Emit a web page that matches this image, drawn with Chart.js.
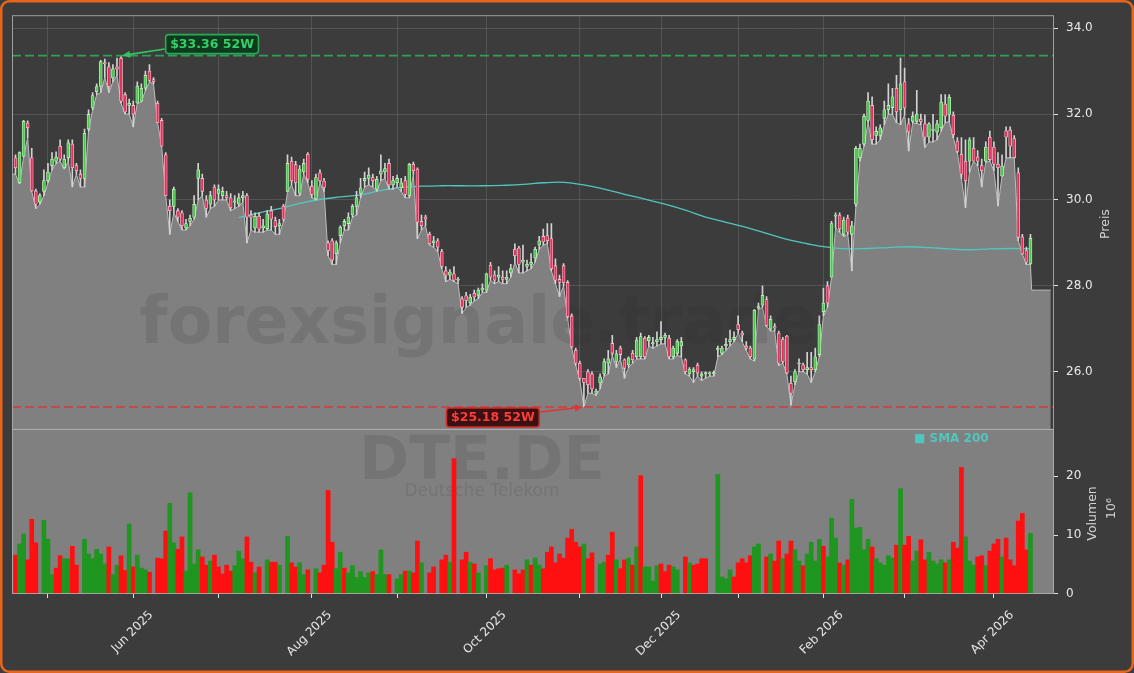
<!DOCTYPE html>
<html>
<head>
<meta charset="utf-8">
<script src="https://cdn.jsdelivr.net/npm/chart.js@4.4.1/dist/chart.umd.min.js"></script>
<style>
  html, body { margin: 0; padding: 0; background: #3c3c3c; overflow: hidden; }
  #wrap { position: relative; width: 1134px; height: 673px; }
</style>
</head>
<body>
<div id="wrap"><canvas id="chart"></canvas></div>
<script>
// ── Data (DTE.DE daily, trading-day index 0..250) ─────────────
const open = [
30.98,30.40,31.02,31.79,30.98,30.21,29.95,30.20,30.45,30.80,
30.90,31.25,30.75,30.98,31.30,30.80,30.60,30.50,31.65,32.14,
32.52,32.64,33.20,33.10,32.84,33.10,33.30,32.45,32.20,32.20,
32.25,32.30,32.60,33.00,32.80,32.25,31.85,31.05,29.85,29.85,
29.75,29.70,29.35,29.50,29.60,30.50,30.50,30.00,29.90,30.30,
30.15,30.10,30.10,30.05,29.95,29.90,30.05,30.10,29.65,29.35,
29.62,29.35,29.33,29.75,29.52,29.40,29.85,30.20,30.90,30.82,
30.15,30.65,31.06,30.32,30.02,30.63,30.44,29.00,29.05,28.75,
29.17,29.40,29.45,29.65,29.85,30.15,30.45,30.50,30.52,30.25,
30.60,30.65,30.85,30.35,30.40,30.28,30.45,30.10,30.83,30.72,
29.50,29.60,29.20,29.00,29.05,28.80,28.35,28.25,28.28,28.13,
27.70,27.77,27.60,27.83,27.78,27.90,27.90,28.48,28.25,28.20,
28.20,28.15,28.30,28.85,28.88,28.55,28.45,28.50,28.65,28.95,
29.15,29.17,29.10,28.47,28.15,28.47,28.08,27.30,26.50,26.20,
25.85,26.00,25.95,25.50,25.74,25.95,26.20,26.66,26.24,26.55,
26.28,26.16,26.43,26.35,26.35,26.78,26.72,26.65,26.70,26.75,
26.80,26.78,26.35,26.43,26.60,26.28,25.95,26.00,26.15,25.90,
25.95,25.95,25.95,26.52,26.43,26.60,26.70,26.75,27.10,26.90,
26.60,26.55,26.30,27.48,27.55,27.68,26.99,27.05,26.90,26.75,
26.83,25.73,25.77,26.18,26.16,26.05,26.10,26.05,26.40,27.40,
28.00,28.20,29.62,29.65,29.20,29.58,29.20,29.90,30.98,31.30,
31.85,32.20,31.50,31.50,31.90,32.10,32.15,32.60,32.10,32.75,
31.77,31.83,31.83,31.88,31.77,31.46,31.62,31.58,31.68,32.23,
31.99,31.97,31.37,31.06,30.90,30.90,31.20,31.00,30.80,30.90,
31.46,31.23,30.83,30.56,31.61,31.63,31.43,30.63,29.14,28.82,
28.51];

const high = [
31.05,31.12,31.85,31.84,31.20,30.25,30.15,30.70,30.85,31.10,
31.12,31.40,31.05,31.40,31.40,30.85,30.70,31.65,32.10,32.50,
32.70,33.25,33.28,33.20,33.15,33.30,33.36,32.50,32.35,32.30,
32.75,32.70,33.00,33.15,32.85,32.30,31.90,31.10,30.00,30.30,
29.80,29.75,29.55,29.65,30.10,30.85,30.60,30.10,30.20,30.35,
30.35,30.30,30.20,30.15,30.10,30.15,30.20,30.15,29.75,29.70,
29.70,29.55,29.75,29.85,29.60,29.55,29.90,31.05,31.00,30.90,
30.80,30.95,31.10,30.45,30.60,30.70,30.50,29.05,29.10,29.05,
29.40,29.55,29.70,29.90,30.20,30.50,30.65,30.75,30.60,30.55,
31.05,30.85,30.95,30.55,30.58,30.50,30.55,30.85,30.88,30.75,
29.65,29.65,29.25,29.15,29.10,28.85,28.45,28.38,28.45,28.20,
27.75,27.85,27.80,27.90,27.95,28.05,28.30,28.55,28.35,28.45,
28.35,28.35,28.50,28.98,28.92,28.95,28.60,28.75,28.90,29.15,
29.32,29.45,29.45,28.63,28.25,28.52,28.12,27.35,26.55,26.25,
25.85,26.05,26.00,25.60,25.95,26.30,26.50,26.85,26.50,26.60,
26.30,26.35,26.50,26.80,26.90,26.82,26.85,26.80,26.93,27.17,
26.90,26.85,26.60,26.75,26.80,26.30,26.10,26.10,26.20,26.00,
26.00,26.00,26.02,26.60,26.60,26.78,26.97,26.93,27.30,26.95,
26.70,26.60,27.45,27.60,28.00,27.75,27.30,27.12,26.95,26.80,
26.85,25.90,26.05,26.30,26.20,26.45,26.45,26.55,27.30,27.95,
28.10,29.50,29.70,29.70,29.60,29.65,29.50,31.25,31.30,32.00,
32.50,32.40,31.70,31.75,32.30,32.70,32.60,32.90,33.30,33.07,
31.90,32.05,32.55,32.00,31.98,31.80,31.99,31.85,32.45,32.45,
32.45,32.05,31.45,31.45,31.40,31.45,31.45,31.15,30.95,31.35,
31.60,31.35,31.10,31.05,31.70,31.70,31.50,30.75,29.20,28.90,
29.20];

const low = [
30.60,30.38,31.00,31.45,30.20,29.80,29.90,30.10,30.40,30.70,
30.85,30.90,30.72,30.90,30.30,30.60,30.30,30.30,31.60,32.10,
32.45,32.50,32.85,32.50,32.75,32.90,32.25,32.00,32.00,31.70,
32.25,32.28,32.55,32.75,32.70,31.80,31.25,30.10,29.20,29.70,
29.50,29.30,29.30,29.40,29.55,30.00,30.10,29.60,29.80,29.85,
30.00,30.00,30.00,29.75,29.80,29.85,29.95,29.00,29.30,29.25,
29.25,29.25,29.30,29.30,29.20,29.20,29.50,30.20,30.35,30.10,
30.10,30.60,30.40,30.05,30.00,30.40,30.20,28.70,28.50,28.50,
29.00,29.30,29.30,29.60,29.65,30.05,30.30,30.35,30.30,30.20,
30.45,30.50,30.25,30.25,30.30,30.20,30.05,30.05,30.60,29.10,
29.30,29.40,28.95,28.90,28.80,28.40,28.10,28.15,28.10,28.05,
27.35,27.50,27.55,27.65,27.70,27.85,27.85,28.13,28.05,28.10,
28.05,28.05,28.20,28.55,28.30,28.30,28.35,28.40,28.55,28.85,
28.95,28.98,28.35,28.05,27.75,28.00,27.25,26.55,26.15,25.80,
25.18,25.50,25.50,25.45,25.60,25.90,25.95,26.38,26.10,26.30,
25.85,26.10,26.20,26.30,26.30,26.30,26.60,26.55,26.60,26.65,
26.65,26.30,26.30,26.38,26.35,25.95,25.90,25.75,25.90,25.80,
25.85,25.90,25.90,26.35,26.40,26.50,26.60,26.70,26.90,26.70,
26.50,26.30,26.25,27.45,27.50,27.05,26.95,26.95,26.15,26.20,
25.95,25.22,25.70,26.00,26.00,25.95,25.75,26.00,26.35,27.30,
27.50,28.20,29.35,29.25,29.15,29.20,28.35,29.85,30.90,31.25,
31.80,31.30,31.30,31.40,31.75,32.00,31.99,31.80,31.75,31.98,
31.14,31.80,31.78,31.75,31.22,31.35,31.35,31.40,31.60,31.80,
31.82,31.45,31.10,30.50,29.82,30.65,30.90,30.80,30.30,30.88,
30.90,30.68,29.86,30.55,30.98,30.98,30.98,29.05,28.74,28.50,
28.50];

const close = [
30.75,31.10,31.83,31.68,30.21,29.90,30.10,30.45,30.65,30.95,
31.00,30.95,30.95,31.33,30.75,30.68,30.50,31.55,31.99,32.43,
32.64,33.22,33.17,32.64,33.05,33.05,32.30,32.05,32.25,32.00,
32.65,32.60,32.90,32.78,32.75,31.80,31.25,30.10,29.75,30.25,
29.60,29.40,29.45,29.57,29.90,30.70,30.20,29.80,30.10,30.00,
30.25,30.20,30.05,29.82,29.98,30.05,30.10,29.60,29.60,29.62,
29.32,29.40,29.67,29.55,29.38,29.45,29.55,30.85,30.45,30.40,
30.72,30.85,30.48,30.13,30.52,30.44,30.29,28.82,28.60,29.00,
29.37,29.50,29.60,29.85,30.05,30.28,30.50,30.58,30.45,30.48,
30.68,30.73,30.35,30.45,30.50,30.40,30.13,30.83,30.68,29.48,
29.40,29.55,28.98,29.05,28.90,28.45,28.25,28.32,28.13,28.15,
27.50,27.66,27.74,27.74,27.90,27.95,28.28,28.20,28.13,28.25,
28.15,28.20,28.40,28.70,28.50,28.60,28.50,28.55,28.85,29.05,
29.02,29.05,28.40,28.13,28.08,28.08,27.28,26.58,26.20,25.85,
25.75,25.70,25.60,25.55,25.88,26.24,26.30,26.43,26.42,26.40,
26.08,26.32,26.28,26.74,26.82,26.35,26.80,26.68,26.75,26.80,
26.85,26.35,26.55,26.70,26.70,26.00,26.05,26.05,25.97,25.95,
25.98,25.95,25.98,26.55,26.55,26.64,26.75,26.80,26.98,26.85,
26.55,26.35,27.43,27.52,27.78,27.08,27.22,27.02,26.20,26.24,
25.97,25.50,26.00,26.20,26.05,26.10,26.05,26.35,27.10,27.60,
27.60,29.45,29.65,29.33,29.53,29.25,29.40,31.20,31.20,31.95,
32.30,31.40,31.60,31.68,32.10,32.20,32.40,32.05,32.70,32.14,
31.58,31.95,32.00,31.82,31.46,31.77,31.65,31.77,32.28,31.95,
32.39,31.52,31.13,30.60,30.45,31.40,30.90,30.90,30.68,31.23,
30.94,30.83,30.75,30.79,31.46,31.25,30.98,29.13,28.74,28.55,
29.11];

// volume in millions; 0 = no bar that day
const volume = [
6.6,8.5,10.2,5.8,12.7,8.7,0,12.5,9.3,3.3,
4.4,6.5,6.0,6.0,8.1,4.9,0,9.3,6.8,6.0,
7.6,6.8,5.1,8.0,3.3,4.9,6.5,4.0,11.9,4.6,
6.6,4.4,4.1,3.7,0,6.1,6.0,10.7,15.4,8.7,
7.6,9.7,3.9,17.2,5.1,7.5,6.3,4.9,5.6,6.6,
4.6,3.4,4.9,3.9,4.8,7.3,6.0,9.7,5.4,3.6,
4.6,0,5.8,5.4,5.4,4.9,0,9.8,5.3,4.6,
5.3,3.3,4.1,0,4.3,3.6,4.9,17.6,8.8,4.3,
7.1,4.4,3.6,4.8,2.8,3.8,2.8,3.6,3.8,3.3,
7.5,3.3,3.3,0,2.6,3.3,3.9,3.9,3.6,9.0,
5.3,0,3.6,4.6,0,5.8,6.6,5.4,23.0,0,
5.8,7.1,5.4,5.1,3.6,0,4.8,6.0,4.1,4.3,
4.4,4.9,0,4.1,3.4,4.1,5.8,4.9,6.1,4.9,
4.3,7.1,8.0,5.3,6.8,6.1,9.5,11.0,8.8,8.0,
8.5,6.0,7.0,0,5.1,5.4,6.6,10.5,5.8,4.3,
5.8,6.1,4.9,8.0,20.1,4.6,4.6,2.2,4.8,5.1,
3.8,4.9,4.6,4.1,0,6.3,5.3,4.9,5.1,6.0,
6.0,0,0,20.3,2.9,2.6,4.1,2.9,5.3,6.0,
5.3,6.5,8.0,8.5,0,6.3,6.8,5.6,9.0,6.0,
6.8,9.0,7.5,5.6,4.8,6.8,8.8,5.6,9.3,8.1,
6.3,12.9,9.5,5.3,4.9,5.8,16.1,11.2,11.3,7.5,
9.3,8.0,6.0,5.3,4.9,6.5,6.1,8.3,17.9,8.3,
9.8,5.6,7.3,9.2,5.8,7.1,5.6,5.1,5.8,5.3,
5.8,8.8,7.8,21.5,9.7,5.6,4.9,6.3,6.5,4.8,
7.3,8.5,9.3,6.3,9.5,5.8,4.8,12.4,13.7,7.5,
10.3];

// volume bar colour per day, g = up, r = down, . = no bar
const volDir =
  'rggrrr.ggg' + 'rrggrr.ggg' + 'gggrggrrgr' + 'gggr.rrrgg' + 'rrggggrrgr' +
  'rrrrgggrrg' + 'r.grrg.grr' + 'ggr.grrrrg' + 'grggggggrg' + 'ggr.ggrgrr' +
  'g.rr.rrgr.' + 'rrgrg.grrr' + 'rg.rrrgrgg' + 'rrrrrrrrrr' + 'grr.ggrrgr' +
  'rgrgrggggr' + 'rrgg.rgrrr' + 'r..ggggrrr' + 'rrgg.rgrrg' + 'rrggrggggr' +
  'gggrgrgggg' + 'grgggggrgr' + 'rggrrggggr' + 'grrrgggrrg' + 'rrrgrrrrrr' + 'g';

// SMA 200
const smaIdx = [55,60,65,70,75,80,85,90,95,100,105,110,115,120,125,130,135,140,145,150,
                155,160,165,170,175,180,185,190,195,200,205,210,215,220,225,230,235,240,245,250];
const smaVal = [29.59,29.70,29.80,29.92,30.01,30.07,30.12,30.22,30.29,30.32,
                30.33,30.33,30.33,30.34,30.36,30.40,30.41,30.35,30.25,30.13,
                30.02,29.90,29.76,29.60,29.48,29.36,29.22,29.08,28.98,28.90,
                28.86,28.87,28.89,28.91,28.89,28.86,28.84,28.86,28.87,28.86];

// area edge before first / after last candle
const areaHeadIdx = [-1], areaHeadVal = [30.60];
const areaTailIdx = [250.3, 255], areaTailVal = [27.90, 27.90];

// month starts (trading-day index) and their labels
const monthIdx = [8, 29, 50, 73, 94, 116, 139, 159, 178, 199, 219, 241];
const monthLabels = ['', 'Jun 2025', '', 'Aug 2025', '', 'Oct 2025', '', 'Dec 2025', '', 'Feb 2026', '', 'Apr 2026'];

const priceTicks = [26, 28, 30, 32, 34];
const volTicks = [0, 10, 20];

const high52 = 33.36, high52Idx = 26;
const low52 = 25.18, low52Idx = 140;

// ── Colours ───────────────────────────────────────────────────
const bg = '#3c3c3c';
const areaGrey = '#808080';
const gridCol = 'rgba(255,255,255,0.12)';
const upFill = '#4cc94c', upLine = '#c4f2c4';
const dnFill = '#e2315b', dnLine = '#f8bccb';
const wickCol = '#d2d2d2';
const volUp = '#1f961f', volDn = '#ff1010';
const smaCol = '#4fc7bf';
const FONT = "'DejaVu Sans', sans-serif";

Chart.defaults.font.family = FONT;

// ── Build datasets ────────────────────────────────────────────
const idx = open.map((_, i) => i);
const up = idx.map(i => close[i] >= open[i]);

const areaData = [
  ...areaHeadIdx.map((x, k) => ({ x, y: areaHeadVal[k] })),
  ...idx.map(i => ({ x: i, y: low[i] })),
  ...areaTailIdx.map((x, k) => ({ x, y: areaTailVal[k] }))
];
const wickData = idx.map(i => ({ x: i, y: [low[i], high[i]] }));
const bodyData = idx.map(i => ({ x: i, y: [open[i], close[i]] }));
const volData = idx.filter(i => volume[i] > 0).map(i => ({ x: i, y: volume[i] }));
const volColors = volData.map(d => volDir[d.x] === 'g' ? volUp : volDn);
const smaData = smaIdx.map((x, k) => ({ x, y: smaVal[k] }));

// ── Drawing helpers ───────────────────────────────────────────
function arrow(ctx, x1, y1, x2, y2, color) {
  const a = Math.atan2(y2 - y1, x2 - x1), hl = 8, hw = 3.5;
  const bx = x2 - hl * Math.cos(a), by = y2 - hl * Math.sin(a);
  ctx.strokeStyle = color; ctx.fillStyle = color; ctx.lineWidth = 1.6;
  ctx.beginPath(); ctx.moveTo(x1, y1); ctx.lineTo(bx, by); ctx.stroke();
  ctx.beginPath(); ctx.moveTo(x2, y2);
  ctx.lineTo(bx + hw * Math.sin(a), by - hw * Math.cos(a));
  ctx.lineTo(bx - hw * Math.sin(a), by + hw * Math.cos(a));
  ctx.closePath(); ctx.fill();
}

function tag(ctx, cx, cy, text, fg, border, fill) {
  ctx.font = `bold 12.5px ${FONT}`;
  const w = ctx.measureText(text).width + 9, h = 19;
  const x = cx - w / 2, y = cy - h / 2;
  ctx.beginPath(); ctx.roundRect(x, y, w, h, 3);
  ctx.fillStyle = fill; ctx.fill();
  ctx.lineWidth = 1.6; ctx.strokeStyle = border; ctx.stroke();
  ctx.fillStyle = fg; ctx.textAlign = 'center'; ctx.textBaseline = 'middle';
  ctx.fillText(text, cx, cy + 0.5);
  return { x, y, w, h };
}

// ── Panels, watermark, annotations ────────────────────────────
const decor = {
  id: 'decor',
  beforeDraw(chart) {
    const { ctx, width, height } = chart;
    ctx.save();
    ctx.fillStyle = bg;
    ctx.fillRect(0, 0, width, height);
    ctx.restore();
  },
  beforeDatasetsDraw(chart) {
    const { ctx, chartArea: a, scales: { yV } } = chart;
    ctx.save();
    ctx.fillStyle = areaGrey;
    ctx.fillRect(a.left, yV.top, a.right - a.left, yV.bottom - yV.top);
    ctx.restore();
  },
  afterDatasetDraw(chart, args) {
    if (args.index !== 0) return;
    const { ctx, chartArea: a } = chart;
    ctx.save();
    ctx.beginPath(); ctx.rect(a.left, a.top, a.right - a.left, a.bottom - a.top); ctx.clip();
    ctx.textAlign = 'center'; ctx.textBaseline = 'middle';
    ctx.fillStyle = 'rgba(35,35,35,0.13)';
    ctx.font = `bold 65px ${FONT}`;
    ctx.fillText('forexsignale.trade', 478, 326);
    ctx.font = `bold 60px ${FONT}`;
    ctx.fillText('DTE.DE', 482, 463);
    ctx.font = `17px ${FONT}`;
    ctx.fillText('Deutsche Telekom', 482, 492);
    ctx.restore();
  },
  afterDatasetsDraw(chart) {
    const { ctx, chartArea: a, scales: { x, yP, yV } } = chart;
    ctx.save();

    // 52W lines
    ctx.lineWidth = 1.6;
    ctx.setLineDash([9, 4]);
    const yh = yP.getPixelForValue(high52), yl = yP.getPixelForValue(low52);
    ctx.strokeStyle = '#2e9f56';
    ctx.beginPath(); ctx.moveTo(a.left, yh); ctx.lineTo(a.right, yh); ctx.stroke();
    ctx.strokeStyle = '#d63a3a';
    ctx.beginPath(); ctx.moveTo(a.left, yl); ctx.lineTo(a.right, yl); ctx.stroke();
    ctx.setLineDash([]);

    // panel frames
    ctx.strokeStyle = 'rgba(175,175,175,0.85)';
    ctx.lineWidth = 1;
    ctx.strokeRect(a.left + 0.5, yP.top + 0.5, a.right - a.left - 1, yP.bottom - yP.top);
    ctx.strokeRect(a.left + 0.5, yV.top + 0.5, a.right - a.left - 1, yV.bottom - yV.top - 1);

    // 52W annotations
    const hx = x.getPixelForValue(high52Idx);
    const gb = tag(ctx, hx + 91, yh - 11.5, '$33.36 52W', '#36cf6a', '#2aa957', '#0f3a1d');
    arrow(ctx, gb.x - 1, yh - 6.5, hx + 1, yh, '#33c466');
    const lx = x.getPixelForValue(low52Idx);
    const rb = tag(ctx, lx - 91, yl + 10.5, '$25.18 52W', '#ff3c3c', '#d12a2a', '#3b1010');
    arrow(ctx, rb.x + rb.w + 1, yl + 5, lx - 1, yl, '#e03434');

    // legend
    ctx.font = `bold 12px ${FONT}`;
    ctx.fillStyle = smaCol;
    ctx.textAlign = 'left'; ctx.textBaseline = 'middle';
    ctx.fillText('\u25A0 SMA 200', a.right - 140, yV.top + 10);

    // axis titles (read bottom to top)
    ctx.fillStyle = '#d4d4d4';
    ctx.font = `12.5px ${FONT}`;
    ctx.textAlign = 'center';
    const vt = (txt, px, py) => {
      ctx.save(); ctx.translate(px, py); ctx.rotate(-Math.PI / 2);
      ctx.fillText(txt, 0, 0); ctx.restore();
    };
    vt('Preis', a.right + 52, (yP.top + yP.bottom) / 2 + 2);
    vt('Volumen', a.right + 39, (yV.top + yV.bottom) / 2 + 2);
    vt('10\u2076', a.right + 58, (yV.top + yV.bottom) / 2 - 3);

    // outer border
    ctx.strokeStyle = '#e8661c';
    ctx.lineWidth = 2.5;
    ctx.beginPath(); ctx.roundRect(1.25, 1.25, chart.width - 2.5, chart.height - 2.5, 8); ctx.stroke();
    ctx.restore();
  }
};

// ── Chart ─────────────────────────────────────────────────────
new Chart(document.getElementById('chart'), {
  type: 'bar',
  data: {
    datasets: [
      {
        type: 'line', label: 'Low area', data: areaData, yAxisID: 'yP',
        fill: 'start', backgroundColor: areaGrey, borderColor: '#bdbdbd',
        borderWidth: 1, pointRadius: 0, tension: 0, order: 10
      },
      {
        type: 'bar', label: 'Volumen', data: volData, yAxisID: 'yV',
        backgroundColor: volColors, grouped: false,
        barPercentage: 1, categoryPercentage: 1, order: 9
      },
      {
        type: 'line', label: 'SMA 200', data: smaData, yAxisID: 'yP',
        borderColor: smaCol, borderWidth: 1.3, pointRadius: 0, tension: 0.4,
        fill: false, order: 5
      },
      {
        type: 'bar', label: 'Wick', data: wickData, yAxisID: 'yP',
        backgroundColor: wickCol, barThickness: 1, grouped: false, order: 3
      },
      {
        type: 'bar', label: 'Body', data: bodyData, yAxisID: 'yP',
        backgroundColor: up.map(u => u ? upFill : dnFill),
        borderColor: up.map(u => u ? upLine : dnLine),
        borderWidth: 0.8, borderSkipped: false, barThickness: 3,
        minBarLength: 1, grouped: false, order: 2
      }
    ]
  },
  options: {
    responsive: true, maintainAspectRatio: false, animation: false,
    layout: { padding: { top: 12, left: 12, right: 0, bottom: 0 } },
    plugins: { legend: { display: false }, tooltip: { enabled: false } },
    scales: {
      x: {
        type: 'linear', min: -0.86, max: 255.8, offset: false,
        afterBuildTicks: s => { s.ticks = monthIdx.map(v => ({ value: v })); },
        afterFit: s => { s.height = 79; },
        ticks: {
          autoSkip: false, minRotation: 45, maxRotation: 45,
          color: '#e8e8e8', font: { size: 12 }, padding: 10, labelOffset: 18,
          callback: v => monthLabels[monthIdx.indexOf(v)]
        },
        grid: { color: gridCol, tickColor: '#e0e0e0', tickLength: 4, offset: false },
        border: { display: false }
      },
      yP: {
        type: 'linear', position: 'right', stack: 'panels', stackWeight: 416,
        min: 24.67, max: 34.30,
        afterBuildTicks: s => { s.ticks = priceTicks.map(v => ({ value: v })); },
        afterFit: s => { s.width = 80; },
        ticks: { color: '#e8e8e8', font: { size: 12 }, padding: 8, callback: v => v.toFixed(1) },
        grid: { color: gridCol, tickColor: '#e0e0e0', tickLength: 4 },
        border: { display: false }
      },
      yV: {
        type: 'linear', position: 'right', stack: 'panels', stackWeight: 166,
        min: 0, max: 28.05,
        afterBuildTicks: s => { s.ticks = volTicks.map(v => ({ value: v })); },
        afterFit: s => { s.width = 80; },
        ticks: { color: '#e8e8e8', font: { size: 12 }, padding: 8 },
        grid: { drawOnChartArea: false, tickColor: '#e0e0e0', tickLength: 4 },
        border: { display: false }
      }
    }
  },
  plugins: [decor]
});
</script>
</body>
</html>
